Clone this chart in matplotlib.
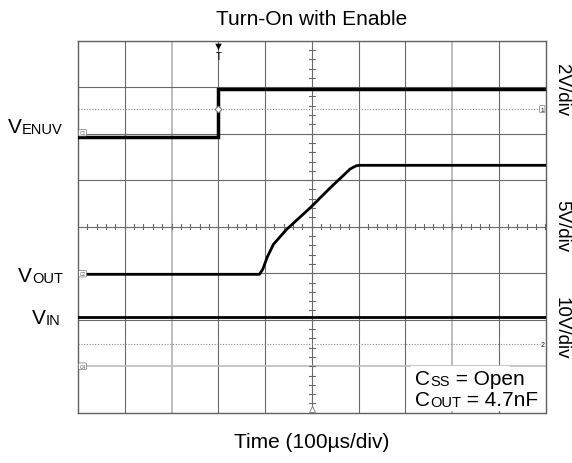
import matplotlib
matplotlib.use("Agg")
import matplotlib.pyplot as plt

plt.rcParams['font.family'] = ['Liberation Sans', 'DejaVu Sans']

# traces, in scope divisions (x: 0..10, y: 0..8 from bottom)
venuv_t = [0, 3.0, 3.0, 10]
venuv_v = [5.935, 5.935, 6.96, 6.96]
vout_t = [0, 3.88, 3.95, 4.05, 4.18, 4.46, 4.96, 5.40, 5.82, 5.95, 6.02, 10]
vout_v = [2.976, 2.976, 3.08, 3.35, 3.62, 3.94, 4.40, 4.84, 5.24, 5.31, 5.32, 5.32]
vin_t = [0, 10]
vin_v = [2.065, 2.065]

ch1_ref = 6.53
ch2_ref = 1.477
trig_t = 3.0

scales = ['2V/div', '5V/div', '10V/div']
scale_y = [90, 226, 328]   # pixel rows from top

W, H = 572, 464
fig = plt.figure(figsize=(W / 100, H / 100), dpi=100)
ax = fig.add_axes([78 / W, (H - 413.7) / H, 467.5 / W, 372 / H])
ax.set_xlim(0, 10)
ax.set_ylim(0, 8)
ax.set_xticks([])
ax.set_yticks([])
for s in ax.spines.values():
  s.set_color('#606060')
  s.set_linewidth(1.0)

# grid
for i in range(1, 10):
  if i in (2, 8):
    ax.axvline(i, color='#bdbdbd', lw=1.4, zorder=1)
  else:
    ax.axvline(i, color='#6a6a6a', lw=0.8, zorder=1)
for j in range(1, 8):
  if j == 1:
    ax.axhline(j, color='#bdbdbd', lw=1.2, zorder=1)
  else:
    ax.axhline(j, color='#6a6a6a', lw=0.8, zorder=1)

# minor ticks on the centre lines
k = 0.2
while k < 10:
  ax.plot([k, k], [4 - 0.06, 4 + 0.06], color='#6a6a6a', lw=0.8, zorder=1)
  k += 0.2
k = 0.2
while k < 8:
  ax.plot([5 - 0.06, 5 + 0.06], [k, k], color='#6a6a6a', lw=0.8, zorder=1)
  k += 0.2

# reference level lines
ax.plot([0, 9.88], [ch1_ref, ch1_ref], color='#888888', lw=0.8, ls=(0, (1, 1.5)), zorder=2)
ax.plot([0, 9.88], [ch2_ref, ch2_ref], color='#888888', lw=0.8, ls=(0, (1, 1.5)), zorder=2)

# traces
ax.plot(venuv_t, venuv_v, color='black', lw=2.5, zorder=4, solid_joinstyle='miter')
ax.plot(vout_t, vout_v, color='black', lw=2.0, zorder=4)
ax.plot(vin_t, vin_v, color='black', lw=2.0, zorder=4)

# scope markers
ax.text(trig_t, 7.99, '\u25bc', fontsize=8, ha='center', va='top', color='black', zorder=5)
ax.text(trig_t, 7.78, 'T', fontsize=7, ha='center', va='top', color='black', zorder=5)
ax.plot([trig_t], [ch1_ref], marker='D', ms=3.5, mfc='white', mec='#777777', mew=0.7, zorder=5)
ax.plot([5], [0.07], marker='^', ms=4, mfc='white', mec='#888888', mew=0.7, zorder=5)
ax.text(9.93, ch1_ref, '1', fontsize=4.5, ha='center', va='center', zorder=5,
        bbox=dict(boxstyle='round,pad=0.15', fc='white', ec='#777777', lw=0.5))
ax.text(9.94, ch2_ref, '2', fontsize=5, ha='center', va='center', zorder=5)
for yy, lab in [(6.02, 'C1'), (2.99, 'C2'), (1.0, 'C4')]:
  ax.text(0.03, yy, lab, fontsize=3.5, ha='left', va='center', color='#555555', zorder=5,
          bbox=dict(boxstyle='round,pad=0.15', fc='white', ec='#777777', lw=0.5))

# note box covering the grid
ax.add_patch(plt.Rectangle((7.13, 0.04), 2.12, 0.96, fc='white', ec='none', zorder=3))


def sub_label(x, y, main, sub, rest='', size=15, subsize=10.5):
  # x, y in pixels from the top-left corner, y is the baseline
  t = fig.text(x / W, (H - y) / H, main, fontsize=size, ha='left', va='baseline', zorder=6)
  s = ax.annotate(sub, xy=(1, 0), xycoords=t, fontsize=subsize, ha='left', va='bottom',
                  annotation_clip=False, zorder=6)
  if rest:
    # x after the subscript, y on the main text line
    ax.annotate(rest, xy=(1, 0), xycoords=(s, t), fontsize=size, ha='left', va='bottom',
                annotation_clip=False, zorder=6)


sub_label(8, 133.3, 'V', 'ENUV')
sub_label(18, 281.7, 'V', 'OUT')
sub_label(32, 324, 'V', 'IN')
sub_label(415, 385, 'C', 'SS', ' = Open')
sub_label(415, 406, 'C', 'OUT', ' = 4.7nF')

fig.text(311.5 / W, (H - 25) / H, 'Turn-On with Enable', fontsize=15, ha='center', va='baseline')
fig.text(311.5 / W, (H - 448) / H, 'Time (100\u00b5s/div)', fontsize=15, ha='center', va='baseline')

for lab, yy in zip(scales, scale_y):
  fig.text(553 / W, (H - yy) / H, lab, fontsize=13.5, rotation=-90, ha='left', va='center')

fig.savefig('out.png', dpi=100)
